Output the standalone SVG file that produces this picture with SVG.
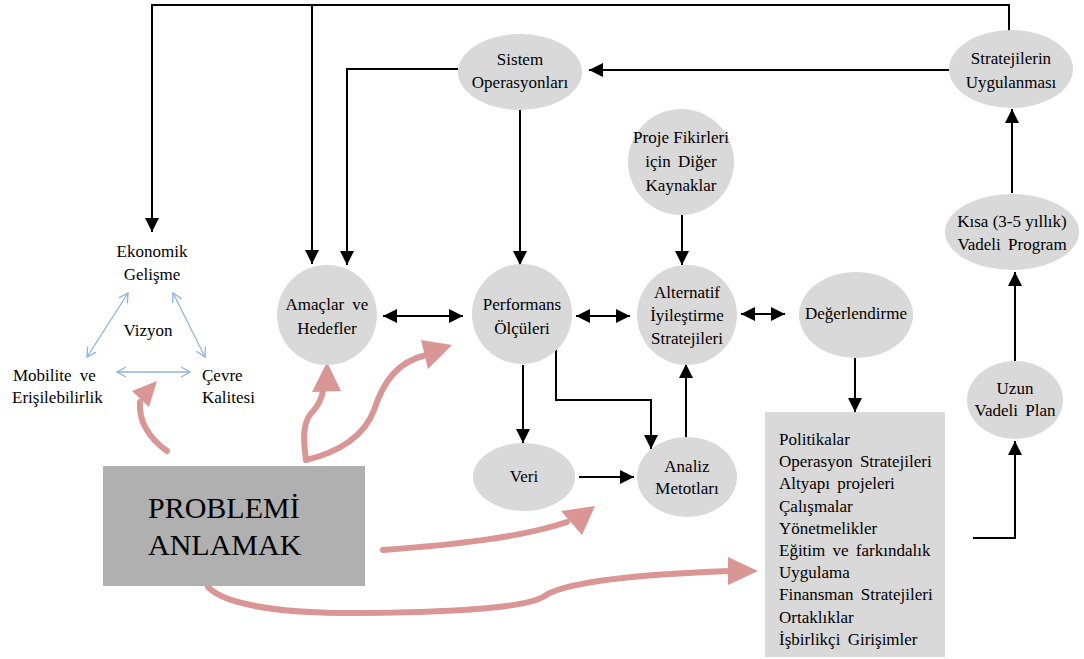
<svg xmlns="http://www.w3.org/2000/svg" width="1084" height="659" viewBox="0 0 1084 659">
  <style>
    text { font-family: "Liberation Serif", "Times New Roman", serif; font-size: 17px; fill: #000; }
    .mid { text-anchor: middle; }
    .node { fill: #d9d9d9; }
    .flow { fill: none; stroke: #000; stroke-width: 2; }
    .vis { fill: none; stroke: #8db3e2; stroke-width: 1.3; }
    .red { fill: none; stroke: #d99694; stroke-width: 6; stroke-linecap: round; }
    .redhead { fill: #d99694; }
  </style>
  <defs>
    <marker id="arr" markerUnits="userSpaceOnUse" markerWidth="14" markerHeight="14" refX="14" refY="7" orient="auto-start-reverse">
      <path d="M0,0 L14,7 L0,14 z" fill="#000"/>
    </marker>
    <marker id="vee" markerUnits="userSpaceOnUse" markerWidth="12" markerHeight="12" refX="10" refY="6" orient="auto-start-reverse">
      <path d="M1,1 L10,6 L1,11" fill="none" stroke="#8db3e2" stroke-width="1.3"/>
    </marker>
  </defs>

  <rect width="1084" height="659" fill="#fff"/>

  <!-- connectors -->
  <g id="connectors">
    <path class="flow" d="M1009,31 V5 H152 V232" marker-end="url(#arr)"/>
    <path class="flow" d="M312,5 V264" marker-end="url(#arr)"/>
    <path class="flow" d="M458,69 H347 V265" marker-end="url(#arr)"/>
    <path class="flow" d="M949,70 H589" marker-end="url(#arr)"/>
    <path class="flow" d="M520,110 V265" marker-end="url(#arr)"/>
    <path class="flow" d="M682,215 V265" marker-end="url(#arr)"/>
    <path class="flow" d="M383,316 H463" marker-start="url(#arr)" marker-end="url(#arr)"/>
    <path class="flow" d="M576,316 H630" marker-start="url(#arr)" marker-end="url(#arr)"/>
    <path class="flow" d="M741,314 H785" marker-start="url(#arr)" marker-end="url(#arr)"/>
    <path class="flow" d="M855,358 V412" marker-end="url(#arr)"/>
    <path class="flow" d="M523,365 V443" marker-end="url(#arr)"/>
    <path class="flow" d="M556,348 V400 H651 V449" marker-end="url(#arr)"/>
    <path class="flow" d="M579,477 H634" marker-end="url(#arr)"/>
    <path class="flow" d="M686,438 V364" marker-end="url(#arr)"/>
    <path class="flow" d="M973,538 H1015 V441" marker-end="url(#arr)"/>
    <path class="flow" d="M1015,362 V272" marker-end="url(#arr)"/>
    <path class="flow" d="M1012,193 V109" marker-end="url(#arr)"/>

    <!-- vision triangle -->
    <path class="vis" d="M128,293 L87,357" marker-start="url(#vee)" marker-end="url(#vee)"/>
    <path class="vis" d="M173,293 L205,357" marker-start="url(#vee)" marker-end="url(#vee)"/>
    <path class="vis" d="M117,372 H190" marker-start="url(#vee)" marker-end="url(#vee)"/>

    <!-- problem understanding links -->
    <path class="red" d="M167,451 Q138,430 140,402"/>
    <polygon class="redhead" points="157,381 132,391 149,407"/>
    <path class="red" d="M306,460 C302,432 304,420 314,410 C320,403 322,398 323,390"/>
    <polygon class="redhead" points="327,362 312,392 341,391"/>
    <path class="red" d="M306,460 C340,452 365,435 374,410 C384,380 398,362 426,355"/>
    <polygon class="redhead" points="452,345 421,340 428,369"/>
    <path class="red" d="M383,550 C450,545 520,538 567,522"/>
    <polygon class="redhead" points="595,506 561,511 582,535"/>
    <path class="red" d="M208,587 C225,605 280,612 340,613 C420,613 520,610 543,597 C560,584 620,575 730,571"/>
    <polygon class="redhead" points="758,571 728,557 728,585"/>
  </g>

  <!-- vision labels -->
  <g id="vizyon">
    <text class="mid" x="152" y="257">Ekonomik</text>
    <text class="mid" x="152" y="280">Gelişme</text>
    <text class="mid" x="148" y="336">Vizyon</text>
    <text x="13" y="381" word-spacing="4">Mobilite ve</text>
    <text x="12" y="403">Erişilebilirlik</text>
    <text x="202" y="381">Çevre</text>
    <text x="202" y="403">Kalitesi</text>
  </g>

  <g id="sistem">
    <ellipse class="node" cx="520" cy="72" rx="62" ry="38"/>
    <text class="mid" x="520" y="65">Sistem</text>
    <text class="mid" x="520" y="88">Operasyonları</text>
  </g>

  <g id="uygulama">
    <ellipse class="node" cx="1011" cy="69" rx="62" ry="39"/>
    <text class="mid" x="1011" y="64">Stratejilerin</text>
    <text class="mid" x="1011" y="88">Uygulanması</text>
  </g>

  <g id="proje">
    <circle class="node" cx="681" cy="162" r="53"/>
    <text class="mid" x="681" y="143">Proje Fikirleri</text>
    <text class="mid" x="681" y="167" word-spacing="3">için Diğer</text>
    <text class="mid" x="681" y="191">Kaynaklar</text>
  </g>

  <g id="amaclar">
    <circle class="node" cx="327" cy="315" r="50"/>
    <text class="mid" x="327" y="310" word-spacing="4">Amaçlar ve</text>
    <text class="mid" x="327" y="334">Hedefler</text>
  </g>

  <g id="performans">
    <circle class="node" cx="522" cy="314" r="50"/>
    <text class="mid" x="522" y="310">Performans</text>
    <text class="mid" x="522" y="334">Ölçüleri</text>
  </g>

  <g id="alternatif">
    <circle class="node" cx="687" cy="315" r="50"/>
    <text class="mid" x="687" y="298">Alternatif</text>
    <text class="mid" x="687" y="321">İyileştirme</text>
    <text class="mid" x="687" y="344">Stratejileri</text>
  </g>

  <g id="degerlendirme">
    <ellipse class="node" cx="856" cy="315" rx="57" ry="43"/>
    <text class="mid" x="856" y="319">Değerlendirme</text>
  </g>

  <g id="veri">
    <ellipse class="node" cx="524" cy="477" rx="51" ry="34"/>
    <text class="mid" x="524" y="482">Veri</text>
  </g>

  <g id="analiz">
    <ellipse class="node" cx="687" cy="477" rx="50" ry="40"/>
    <text class="mid" x="687" y="472">Analiz</text>
    <text class="mid" x="687" y="494">Metotları</text>
  </g>

  <g id="kisa">
    <ellipse class="node" cx="1012" cy="232" rx="67" ry="38"/>
    <text class="mid" x="1012" y="227">Kısa (3-5 yıllık)</text>
    <text class="mid" x="1012" y="250" word-spacing="3">Vadeli Program</text>
  </g>

  <g id="uzun">
    <ellipse class="node" cx="1015" cy="400" rx="48" ry="39"/>
    <text class="mid" x="1015" y="394">Uzun</text>
    <text class="mid" x="1015" y="416" word-spacing="3">Vadeli Plan</text>
  </g>

  <g id="stratejiler">
    <rect class="node" x="765" y="412" width="180" height="245"/>
    <text x="779" y="445">Politikalar</text>
    <text x="779" y="467" word-spacing="3">Operasyon Stratejileri</text>
    <text x="779" y="489" word-spacing="3">Altyapı projeleri</text>
    <text x="779" y="512">Çalışmalar</text>
    <text x="779" y="534">Yönetmelikler</text>
    <text x="779" y="556" word-spacing="3">Eğitim ve farkındalık</text>
    <text x="779" y="578">Uygulama</text>
    <text x="779" y="600" word-spacing="3">Finansman Stratejileri</text>
    <text x="779" y="623">Ortaklıklar</text>
    <text x="779" y="645" word-spacing="3">İşbirlikçi Girişimler</text>
  </g>

  <g id="problem">
    <rect x="103" y="466" width="262" height="120" fill="#b0b0b0"/>
    <text x="148" y="518" style="font-size:30px">PROBLEMİ</text>
    <text x="148" y="555" style="font-size:30px">ANLAMAK</text>
  </g>
</svg>
